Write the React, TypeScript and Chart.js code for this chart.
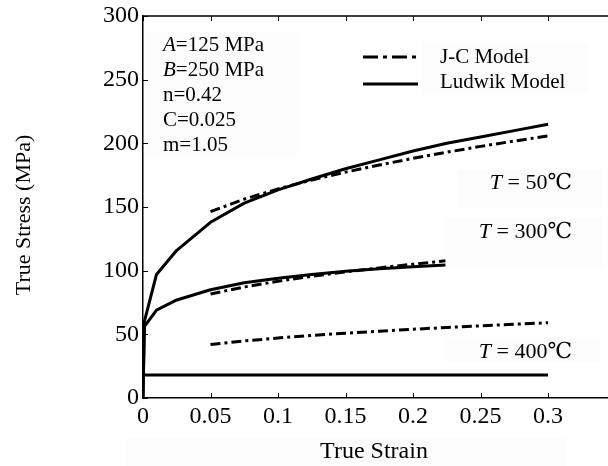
import React, { useEffect, useRef } from "react";
import { Chart, registerables } from "chart.js";

Chart.register(...registerables);

// ---- Data ----
const jcStrain = [0.05, 0.075, 0.1, 0.125, 0.15, 0.175, 0.2, 0.225, 0.25, 0.275, 0.3];
const jc50 = [146.3, 156.2, 164.2, 171.2, 177.4, 183.0, 188.2, 193.0, 197.6, 201.8, 205.8];
const jc400 = [42.0, 44.8, 47.1, 49.2, 50.9, 52.5, 54.0, 55.4, 56.7, 57.9, 59.1];
const jcStrain300 = [0.05, 0.075, 0.1, 0.125, 0.15, 0.175, 0.2, 0.224];
const jc300 = [81.7, 87.2, 91.7, 95.6, 99.1, 102.2, 105.1, 107.7];

const ludStrain50 = [0, 0.001, 0.01, 0.025, 0.05, 0.075, 0.1, 0.125, 0.15, 0.175, 0.2, 0.225, 0.25, 0.275, 0.3];
const lud50 = [0, 60, 97, 116, 138, 153, 163.5, 172, 180, 187, 194, 200, 205, 210, 215];
const ludStrain300 = [0, 0.001, 0.01, 0.025, 0.05, 0.075, 0.1, 0.125, 0.15, 0.175, 0.2, 0.224];
const lud300 = [0, 56, 69, 77, 85, 90.5, 94, 97, 99.5, 101.5, 103, 104.5];
const ludStrain400 = [0, 0.3];
const lud400 = [18, 18];

const xTicks = [0, 0.05, 0.1, 0.15, 0.2, 0.25, 0.3];
const yTicks = [0, 50, 100, 150, 200, 250, 300];

const paramLines: [string, string][] = [
  ["A", "=125 MPa"],
  ["B", "=250 MPa"],
  ["", "n=0.42"],
  ["", "C=0.025"],
  ["", "m=1.05"],
];
const legendLabels = ["J-C Model", "Ludwik Model"];
const tempLabels = ["50℃", "300℃", "400℃"];
const xTitle = "True Strain";
const yTitle = "True Stress (MPa)";

const SERIF = "'Liberation Serif', 'DejaVu Serif', 'Noto Sans CJK SC', serif";
const JC_DASH = [10, 4, 3, 4];

function pts(xs: number[], ys: number[]) {
  return xs.map((x, i) => ({ x, y: ys[i] }));
}

function drawParts(ctx: CanvasRenderingContext2D, parts: [string, boolean][], x: number, y: number, size: number, align: "left" | "right") {
  const widths = parts.map(([t, it]) => {
    ctx.font = `${it ? "italic " : ""}${size}px ${SERIF}`;
    return ctx.measureText(t).width;
  });
  const total = widths.reduce((a, b) => a + b, 0);
  let cx = align === "left" ? x : x - total;
  ctx.textAlign = "left";
  ctx.textBaseline = "middle";
  parts.forEach(([t, it], i) => {
    ctx.font = `${it ? "italic " : ""}${size}px ${SERIF}`;
    ctx.fillText(t, cx, y);
    cx += widths[i];
  });
}

const overlay = {
  id: "overlay",
  beforeDraw(chart: any) {
    const ctx = chart.ctx as CanvasRenderingContext2D;
    ctx.save();
    ctx.fillStyle = "#fcfcfc";
    ctx.fillRect(145, 32, 152, 125);
    ctx.fillRect(422, 43, 166, 50);
    ctx.fillRect(458, 170, 145, 38);
    ctx.fillRect(447, 218, 156, 49);
    ctx.fillRect(447, 337, 153, 25);
    ctx.fillRect(125, 438, 440, 28);
    ctx.restore();
  },
  afterDraw(chart: any) {
    const ctx = chart.ctx as CanvasRenderingContext2D;
    const { chartArea, scales } = chart;
    const xs = scales.x;
    const ys = scales.y;
    ctx.save();
    ctx.strokeStyle = "#000";
    ctx.lineWidth = 1.5;
    ctx.beginPath();
    ctx.moveTo(chartArea.left, chartArea.top);
    ctx.lineTo(chartArea.right, chartArea.top);
    ctx.stroke();
    ctx.lineWidth = 1;
    ctx.beginPath();
    xTicks.forEach((v) => {
      const px = Math.round(xs.getPixelForValue(v)) + 0.5;
      ctx.moveTo(px, chartArea.bottom);
      ctx.lineTo(px, chartArea.bottom - 5);
      ctx.moveTo(px, chartArea.top);
      ctx.lineTo(px, chartArea.top + 5);
    });
    yTicks.forEach((v) => {
      const py = Math.round(ys.getPixelForValue(v)) + 0.5;
      ctx.moveTo(chartArea.left, py);
      ctx.lineTo(chartArea.left + 5, py);
    });
    ctx.stroke();

    ctx.fillStyle = "#000";
    // parameter block
    paramLines.forEach(([it, rest], i) => {
      drawParts(ctx, [[it, true], [rest, false]], 163, 45 + i * 25, 21, "left");
    });
    // legend
    ctx.lineWidth = 3;
    ctx.setLineDash([15, 5, 4, 5]);
    ctx.beginPath();
    ctx.moveTo(363, 57);
    ctx.lineTo(418, 57);
    ctx.stroke();
    ctx.setLineDash([]);
    ctx.beginPath();
    ctx.moveTo(363, 84);
    ctx.lineTo(418, 84);
    ctx.stroke();
    drawParts(ctx, [[legendLabels[0], false]], 440, 57, 21, "left");
    drawParts(ctx, [[legendLabels[1], false]], 440, 82, 21, "left");
    // temperature labels
    const tY = [183, 232, 352];
    tempLabels.forEach((t, i) => {
      drawParts(ctx, [["T", true], [" = " + t, false]], 572, tY[i], 22, "right");
    });
    // axis titles
    ctx.textAlign = "center";
    ctx.textBaseline = "middle";
    ctx.font = `24px ${SERIF}`;
    ctx.fillText(xTitle, 374, 452);
    ctx.font = `22px ${SERIF}`;
    ctx.translate(24, 215);
    ctx.rotate(-Math.PI / 2);
    ctx.fillText(yTitle, 0, 0);
    ctx.restore();
  },
};

export default function App() {
  const ref = useRef<HTMLCanvasElement>(null);
  useEffect(() => {
    document.body.style.margin = "0";
    const canvas = ref.current;
    if (!canvas) return;
    const jcStyle = { borderColor: "#000", borderWidth: 3, borderDash: JC_DASH, pointRadius: 0, tension: 0, fill: false };
    const ludStyle = { borderColor: "#000", borderWidth: 3, pointRadius: 0, tension: 0, fill: false, borderJoinStyle: "round" as const };
    const chart = new Chart(canvas, {
      type: "line",
      data: {
        datasets: [
          { label: "J-C 50", data: pts(jcStrain, jc50), ...jcStyle },
          { label: "J-C 300", data: pts(jcStrain300, jc300), ...jcStyle },
          { label: "J-C 400", data: pts(jcStrain, jc400), ...jcStyle },
          { label: "Ludwik 50", data: pts(ludStrain50, lud50), ...ludStyle },
          { label: "Ludwik 300", data: pts(ludStrain300, lud300), ...ludStyle },
          { label: "Ludwik 400", data: pts(ludStrain400, lud400), ...ludStyle },
        ],
      },
      options: {
        responsive: false,
        animation: false,
        devicePixelRatio: 1,
        layout: { padding: { top: 16, right: 0, left: 0, bottom: 0 } },
        plugins: { legend: { display: false }, tooltip: { enabled: false } },
        scales: {
          x: {
            type: "linear",
            min: 0,
            max: 0.3444,
            afterFit: (s: any) => { s.height = 68; },
            grid: { display: false },
            border: { display: true, color: "#000", width: 1.5 },
            ticks: {
              stepSize: 0.05,
              includeBounds: false,
              maxRotation: 0,
              autoSkip: false,
              padding: -4,
              color: "#000",
              font: { family: SERIF, size: 24 },
              callback: (v: any) => String(Number(Number(v).toFixed(2))),
            },
          },
          y: {
            type: "linear",
            min: 0,
            max: 300,
            afterFit: (s: any) => { s.width = 143; },
            grid: { display: false },
            border: { display: true, color: "#000", width: 1.5 },
            ticks: {
              stepSize: 50,
              padding: -4,
              color: "#000",
              font: { family: SERIF, size: 24 },
              callback: (v: any) => String(v),
            },
          },
        },
      },
      plugins: [overlay],
    });
    return () => chart.destroy();
  }, []);
  return (
    <div style={{ position: "absolute", left: 0, top: 0, width: 608, height: 466, background: "#fff" }}>
      <canvas ref={ref} width={608} height={466} style={{ display: "block", width: 608, height: 466 }} />
    </div>
  );
}
